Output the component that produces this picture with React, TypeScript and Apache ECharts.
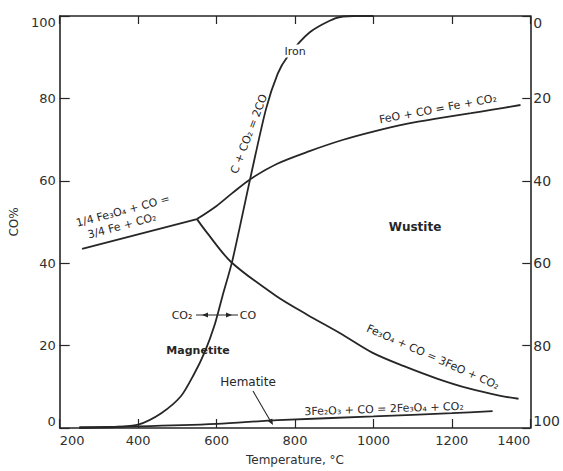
import { useEffect, useRef } from "react";
import * as echarts from "echarts";

// Temperature (°C) / CO% readings for each equilibrium curve
const boudouardT = [250, 300, 350, 400, 459, 509, 541, 570, 595, 615, 640, 686, 726, 756, 780, 837, 904, 950, 1000];
const boudouardCO = [0, 0.1, 0.3, 0.8, 3.6, 7.7, 12.8, 18.5, 25, 32, 40.5, 60.6, 77.4, 86, 90, 96, 99.5, 100, 100];

const magIronT = [257, 550];
const magIronCO = [43.5, 50.7];

const wustIronT = [550, 600, 640, 686, 756, 837, 921, 1002, 1084, 1168, 1249, 1300, 1375];
const wustIronCO = [50.7, 53.9, 57, 60.4, 64.2, 67.2, 69.9, 72, 73.8, 75.2, 76.4, 77.2, 78.4];

const magWustT = [550, 574, 637, 751, 831, 915, 997, 1078, 1162, 1243, 1324, 1370];
const magWustCO = [50.7, 47.6, 40.3, 32.1, 27.5, 23, 18.3, 15, 12, 9.6, 7.8, 7.1];

const hemMagT = [250, 400, 600, 756, 1000, 1200, 1304];
const hemMagCO = [0.2, 0.4, 1.0, 1.9, 2.8, 3.6, 4.1];

const xMin = 200;
const xMax = 1400;
const xStep = 200;
const yMin = 0;
const yMax = 100;
const yStep = 20;

const zip = (xs: number[], ys: number[]) => xs.map((x, i) => [x, ys[i]]);

const INK = "#262626";
const FONT = "DejaVu Sans";

function lineSeries(name: string, xs: number[], ys: number[], smooth: number | false = 0.3) {
  return {
    name,
    type: "line",
    data: zip(xs, ys),
    showSymbol: false,
    smooth,
    lineStyle: { color: INK, width: 1.8 },
    silent: true,
  };
}

function txt(text: string, x: number, y: number, size: number, rotDeg = 0, weight: any = "normal", bg?: string) {
  return {
    type: "text",
    x,
    y,
    z: 10,
    rotation: (rotDeg * Math.PI) / 180,
    style: {
      text,
      fill: INK,
      fontSize: size,
      fontFamily: FONT,
      fontWeight: weight,
      align: "center",
      verticalAlign: "middle",
      backgroundColor: bg,
      padding: bg ? [1, 2] : 0,
    },
  };
}

function arrowHead(tx: number, ty: number, dx: number, dy: number, len = 6, half = 2.6) {
  const l = Math.hypot(dx, dy);
  const ux = dx / l;
  const uy = dy / l;
  const bx = tx - ux * len;
  const by = ty - uy * len;
  return {
    type: "polygon",
    shape: {
      points: [
        [tx, ty],
        [bx - uy * half, by + ux * half],
        [bx + uy * half, by - ux * half],
      ],
    },
    style: { fill: INK },
  };
}

export default function App() {
  const ref = useRef<HTMLDivElement>(null);
  useEffect(() => {
    const chart = echarts.init(ref.current!, null, { renderer: "svg" });
    const axisLine = { show: true, lineStyle: { color: INK, width: 1.6 } };
    const axisTick = { show: true, inside: true, length: 9, lineStyle: { color: INK, width: 1.2 } };
    const labelStyle = { color: "#303030", fontSize: 13, fontFamily: FONT, formatter: (v: number) => String(v) };
    chart.setOption({
      animation: false,
      backgroundColor: "#ffffff",
      grid: { left: 55, right: 21, top: 16, bottom: 41, containLabel: false },
      xAxis: [
        {
          type: "value",
          position: "bottom",
          min: xMin,
          max: xMax,
          interval: xStep,
          axisLine,
          axisTick,
          splitLine: { show: false },
          axisLabel: { ...labelStyle, margin: 6, alignMinLabel: "left", alignMaxLabel: "right" },
          name: "Temperature, °C",
          nameLocation: "middle",
          nameGap: 26,
          nameTextStyle: { color: "#303030", fontSize: 12, fontFamily: FONT },
        },
        {
          type: "value",
          position: "top",
          min: xMin,
          max: xMax,
          interval: xStep,
          axisLine,
          axisTick: { ...axisTick, length: 8 },
          splitLine: { show: false },
          axisLabel: { show: false },
        },
      ],
      yAxis: [
        {
          type: "value",
          position: "left",
          min: yMin,
          max: yMax,
          interval: yStep,
          axisLine,
          axisTick: { ...axisTick, length: 10 },
          splitLine: { show: false },
          axisLabel: {
            ...labelStyle,
            margin: 4,
            verticalAlignMinLabel: "bottom",
            verticalAlignMaxLabel: "top",
          },
          name: "CO%",
          nameLocation: "middle",
          nameGap: 30,
          nameRotate: 90,
          nameTextStyle: { color: "#303030", fontSize: 12, fontFamily: FONT },
        },
        {
          type: "value",
          position: "right",
          inverse: true,
          min: yMin,
          max: yMax,
          interval: yStep,
          axisLine,
          axisTick: { ...axisTick, length: 8 },
          splitLine: { show: false },
          axisLabel: {
            ...labelStyle,
            fontSize: 14,
            margin: 3,
            verticalAlignMinLabel: "top",
            verticalAlignMaxLabel: "bottom",
          },
        },
      ],
      series: [
        lineSeries("C + CO2 = 2CO", boudouardT, boudouardCO, 0.25),
        lineSeries("1/4 Fe3O4 + CO = 3/4 Fe + CO2", magIronT, magIronCO, false),
        lineSeries("FeO + CO = Fe + CO2", wustIronT, wustIronCO, 0.3),
        lineSeries("Fe3O4 + CO = 3FeO + CO2", magWustT, magWustCO, 0.3),
        lineSeries("3Fe2O3 + CO = 2Fe3O4 + CO2", hemMagT, hemMagCO, 0.3),
      ],
      graphic: [
        txt("C + CO₂ = 2CO", 249, 134, 11, 69),
        txt("Iron", 295, 51, 11, 0, "normal", "#ffffff"),
        txt("1/4 Fe₃O₄ + CO =", 123, 211, 11, 15),
        txt("3/4 Fe + CO₂", 122, 226, 11, 15),
        txt("FeO + CO = Fe + CO₂", 438, 109, 11, 10.6),
        txt("Wustite", 415, 227, 12, 0, "bold"),
        txt("Fe₃O₄ + CO = 3FeO + CO₂", 433, 357, 11, -24),
        txt("3Fe₂O₃ + CO = 2Fe₃O₄ + CO₂", 384, 409, 11, 2),
        txt("Magnetite", 198, 350, 11, 0, "bold"),
        txt("Hematite", 248, 382, 12),
        txt("CO₂", 182, 315, 11),
        txt("CO", 248, 315, 11),
        {
          type: "line",
          shape: { x1: 196, y1: 315, x2: 238, y2: 315 },
          style: { stroke: INK, lineWidth: 1.1 },
        },
        arrowHead(202, 315, -1, 0),
        arrowHead(232, 315, 1, 0),
        {
          type: "line",
          shape: { x1: 253, y1: 391, x2: 271, y2: 422 },
          style: { stroke: INK, lineWidth: 1.1 },
        },
        arrowHead(273, 425, 18, 31),
      ],
    });
    return () => chart.dispose();
  }, []);
  return (
    <div
      ref={ref}
      style={{ position: "fixed", left: 0, top: 0, width: 563, height: 471 }}
    />
  );
}
